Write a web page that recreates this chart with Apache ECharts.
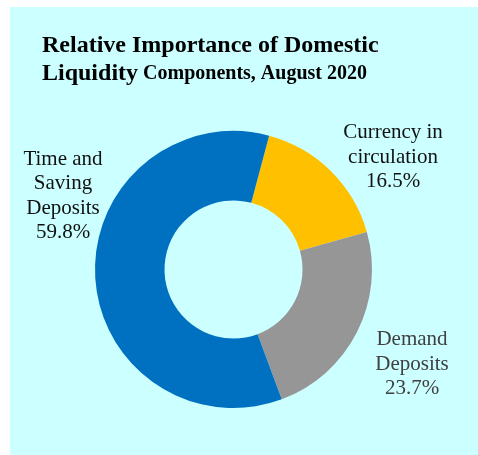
<!DOCTYPE html>
<html>
<head>
<meta charset="utf-8">
<script src="https://cdn.jsdelivr.net/npm/echarts@6/dist/echarts.min.js"></script>
<style>
html,body{margin:0;padding:0;background:#ffffff;}
#chart{width:478px;height:455px;}
</style>
</head>
<body>
<div id="chart"></div>
<script>
// Data
var categories = ['Currency in\ncirculation', 'Demand\nDeposits', 'Time and\nSaving\nDeposits'];
var shares = [16.5, 23.7, 59.8];
var sliceColors = ['#FFC000', '#969696', '#0070C0'];
var labelColors = ['#111111', '#404040', '#111111'];

// Label anchor positions (layout, not data)
var labelPos = [
  {x: 393, y: 157},
  {x: 412, y: 364},
  {x: 63, y: 196}
];

var chart = echarts.init(document.getElementById('chart'));
var font = '"Liberation Serif", "Times New Roman", serif';

chart.setOption({
  animation: false,
  graphic: [{
    type: 'rect', z: -10, silent: true,
    shape: {x: 10, y: 7, width: 468, height: 448},
    style: {fill: '#CCFFFF'}
  }],
  title: {
    left: 42, top: 32, padding: 0,
    text: '{a|Relative Importance of Domestic}\n{a|Liquidity} {b|Components, August 2020}',
    textStyle: {
      rich: {
        a: {fontFamily: font, fontWeight: 'bold', fontSize: 24, lineHeight: 28, color: '#000'},
        b: {fontFamily: font, fontWeight: 'bold', fontSize: 20, lineHeight: 28, color: '#000'}
      }
    }
  },
  series: [{
    type: 'pie',
    center: [233.5, 269.5],
    radius: [69, 138.5],
    startAngle: 75.1,
    clockwise: true,
    avoidLabelOverlap: false,
    label: {
      show: true,
      position: 'outside',
      fontFamily: font,
      fontSize: 21,
      lineHeight: 24.5,
      align: 'center',
      formatter: function (p) { return p.name + '\n' + p.value.toFixed(1) + '%'; }
    },
    labelLine: {show: false},
    labelLayout: function (params) {
      var p = labelPos[params.dataIndex];
      return {x: p.x, y: p.y, align: 'center', verticalAlign: 'middle'};
    },
    emphasis: {disabled: true},
    data: categories.map(function (c, i) {
      return {
        name: c, value: shares[i],
        itemStyle: {color: sliceColors[i]},
        label: {color: labelColors[i]}
      };
    })
  }]
});
</script>
</body>
</html>
